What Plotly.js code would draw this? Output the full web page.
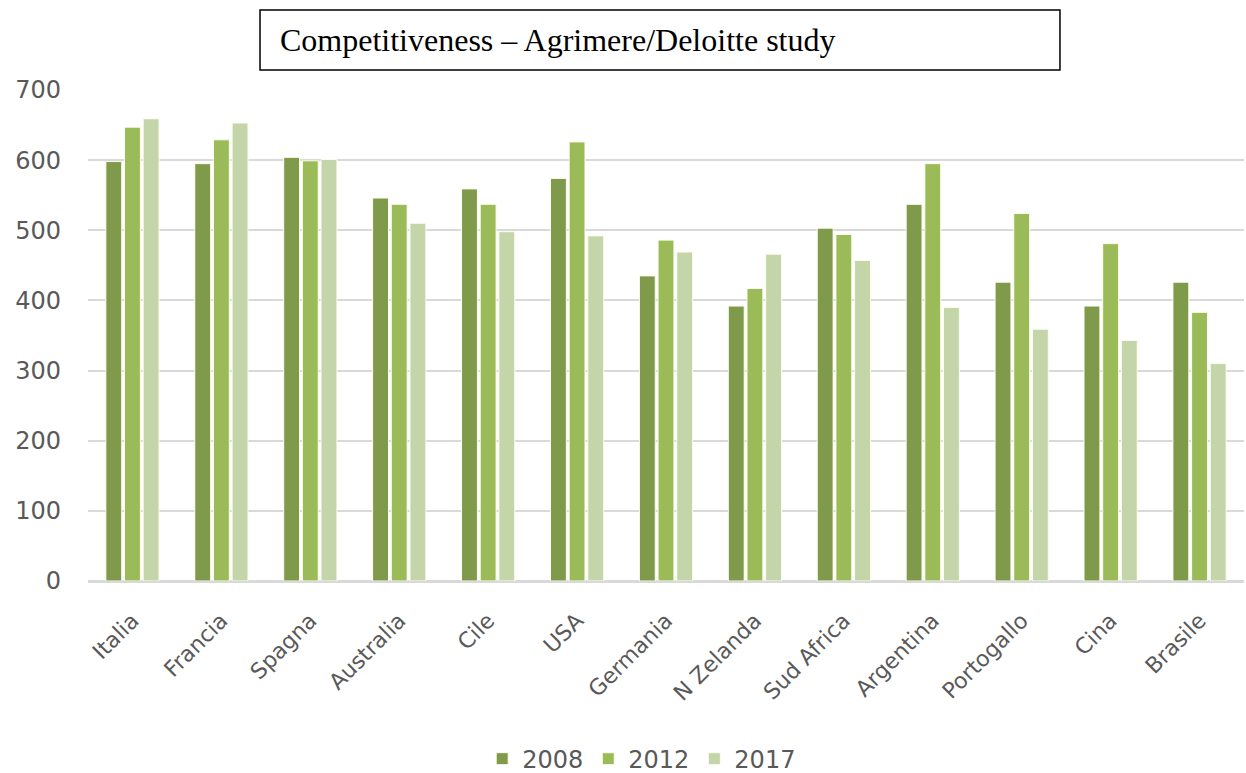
<!DOCTYPE html>
<html><head><meta charset="utf-8">
<script src="https://cdn.plot.ly/plotly-3.0.1.min.js"></script>
<style>html,body{margin:0;padding:0;background:#fff}#chart{width:1246px;height:773px}</style>
</head><body><div id="chart"></div>
<script>
const categories = ["Italia","Francia","Spagna","Australia","Cile","USA","Germania","N Zelanda","Sud Africa","Argentina","Portogallo","Cina","Brasile"];
const v2008 = [598,595,604,546,559,574,435,392,503,537,426,392,426];
const v2012 = [647,629,599,537,537,626,486,417,494,595,524,481,383];
const v2017 = [659,653,601,510,498,492,469,466,457,390,359,343,310];
const seriesNames = ["2008","2012","2017"];
const colors = ["#7f9a4a","#9bbb59","#c4d5a9"];
const titleText = "Competitiveness – Agrimere/Deloitte study";

const vals = [v2008, v2012, v2017];
const traces = seriesNames.map((n,i)=>({
  type:'bar', name:n, x:categories, y:vals[i],
  marker:{color:colors[i], line:{color:'#fbfdf0', width:1}}
}));

const layout = {
  width:1246, height:773,
  margin:{l:88, r:2, t:90, b:192},
  paper_bgcolor:'#fff', plot_bgcolor:'#fff',
  bargap:0.37, bargroupgap:0.15,
  font:{family:'DejaVu Sans, Verdana, sans-serif', color:'#595959'},
  xaxis:{tickangle:-45, tickfont:{size:22, color:'#595959'}, showgrid:false, automargin:false,
         showline:true, linecolor:'#d9d9d9', linewidth:2, ticks:'', ticklabelstandoff:16},
  yaxis:{range:[0,700], dtick:100, tickfont:{size:24, color:'#595959'}, automargin:false,
         gridcolor:'#d9d9d9', gridwidth:2, zeroline:true, zerolinecolor:'#d9d9d9', zerolinewidth:2,
         ticks:'', ticklabelstandoff:26, showline:false},
  legend:{orientation:'h', xref:'container', yref:'container', x:0.515, xanchor:'center', y:0.018, yanchor:'middle',
          font:{size:24, color:'#595959'}, traceorder:'normal', itemwidth:30},
  shapes:[{type:'rect', xref:'paper', yref:'paper', x0:0.1488, x1:0.8408, y0:1.0407, y1:1.163,
           line:{color:'#000', width:1.5}, fillcolor:'rgba(0,0,0,0)'}],
  annotations:[{text:titleText, xref:'paper', yref:'paper', x:0.1644, xanchor:'left',
                y:1.1018, yanchor:'middle', showarrow:false,
                font:{family:'Liberation Serif, Times New Roman, serif', size:32, color:'#000'}}]
};
Plotly.newPlot('chart', traces, layout, {displayModeBar:false, staticPlot:true});
</script></body></html>
